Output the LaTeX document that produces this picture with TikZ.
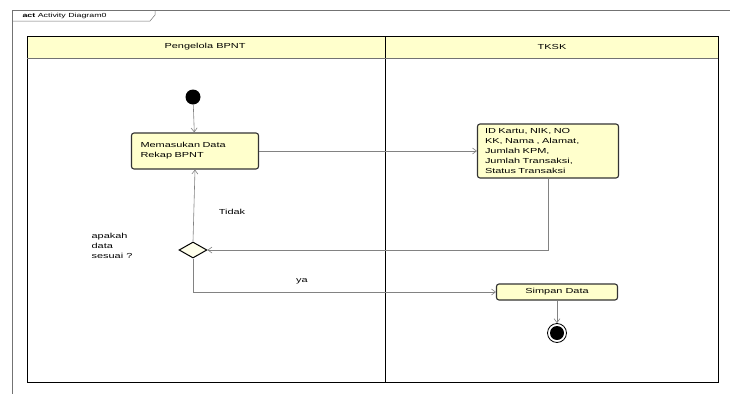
\documentclass[tikz,border=0pt]{standalone}
\usepackage{fontspec}
\setmainfont{Liberation Sans}
\newfontfamily\widefont[FakeStretch=1.5]{Liberation Sans}
\usetikzlibrary{shapes.geometric,arrows.meta}
\definecolor{lanefill}{RGB}{255,255,204}
\definecolor{lineg}{RGB}{130,130,130}
\tikzset{
    actbox/.style={draw=black!80,line width=1.1pt,fill=lanefill,rounded corners=2.5pt,font=\widefont\fontsize{7.3}{10}\selectfont},
    flow/.style={draw=lineg,line width=0.6pt,-{Straight Barb[length=4pt,width=6pt]}},
    txt/.style={font=\widefont\fontsize{7.3}{10}\selectfont,align=left}
}
\begin{document}
\begin{tikzpicture}[x=1pt,y=-1pt]
    \useasboundingbox[fill=white] (0,0) rectangle (732,394);
    % Outer frame with tab
    \draw[black!55,line width=0.5pt] (12,394) -- (12,10) -- (730,10);
    \draw[black!55,line width=0.5pt] (12,21) -- (150,21) -- (155,15) -- (155,10);
    \node[anchor=west,font=\widefont\fontsize{5.9}{7}\selectfont] (tab) at (19,15.5) {\textbf{act} Activity Diagram0};
    
    % Swimlanes
    \draw[black!55,fill=lanefill] (27,36) rectangle (718,58);
    \draw[line width=0.8pt] (27,36) rectangle (718,382);
    \draw[line width=0.8pt] (385,36) -- (385,382);
    \draw[black!55] (27,58) -- (718,58);
    \node[font=\widefont\fontsize{7.3}{9}\selectfont] (lane1) at (205,47) {Pengelola BPNT};
    \node[font=\widefont\fontsize{7.3}{9}\selectfont] (lane2) at (552,47) {TKSK};
    
    % Nodes
    \node[circle,fill=black,minimum size=15pt,inner sep=0pt] (start) at (193,97) {};
    \node[actbox,minimum width=127pt,minimum height=36pt,align=left,text width=109pt] (input) at (195,151) {Memasukan Data\\Rekap BPNT};
    \node[actbox,minimum width=141pt,minimum height=54pt,align=left,text width=126pt] (data) at (548,151) {ID Kartu, NIK, NO\\KK, Nama , Alamat,\\Jumlah KPM,\\Jumlah Transaksi,\\Status Transaksi};
    \node[diamond,draw,line width=1pt,fill=lanefill!40,minimum width=28pt,minimum height=16pt,inner sep=0pt,aspect=1.8] (cek) at (193,250) {};
    \node[actbox,minimum width=121pt,minimum height=16pt] (simpan) at (557,292) {Simpan Data};
    \node[circle,draw,line width=0.8pt,minimum size=19pt,inner sep=0pt] (stop) at (557,333) {};
    \fill (stop.center) circle (7pt);
    
    % Labels
    \node[txt] (tanya) at (112,246) {apakah\\data\\sesuai ?};
    \node[txt] (tidak) at (232,212) {Tidak};
    \node[txt] (ya) at (302,281) {ya};
    
    % Flows
    \draw[flow] (start) -- (input);
    \draw[flow] (input) -- (data);
    \draw[flow] (data.south) |- (cek.east);
    \draw[flow] (cek.north) -- (input.south);
    \draw[flow] (cek.south) |- (simpan.west);
    \draw[flow] (simpan) -- (stop);
\end{tikzpicture}
\end{document}
